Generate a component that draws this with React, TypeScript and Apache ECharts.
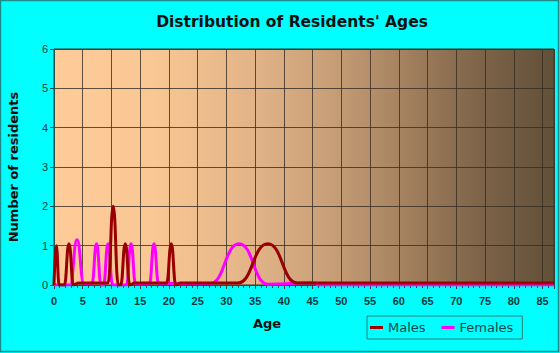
import React, { useEffect, useRef } from 'react';
import * as echarts from 'echarts';

const titleText = "Distribution of Residents' Ages";
const xAxisTitle = 'Age';
const yAxisTitle = 'Number of residents';
const seriesNames = ['Males', 'Females'];

const maleAges = [0, 0.4, 0.9, 1.8, 2.6, 3.4, 4.3, 9.4, 10.3, 11.2, 11.6, 12.4, 13.2, 14.0, 19.6, 20.4, 21.2, 22.0, 32.0, 37.2, 42.3, 87];
const maleCounts = [0, 1, 0, 0, 1.05, 0, 0.05, 0.05, 2, 0, 0, 1.05, 0, 0.05, 0.05, 1.05, 0, 0.05, 0.05, 1.05, 0.05, 0.05];

const femaleAges = [0, 2.8, 4.0, 5.2, 6.6, 7.4, 8.2, 8.6, 9.4, 10.2, 12.6, 13.4, 14.2, 16.6, 17.4, 18.2, 27.2, 32.2, 37.2, 45, 46, 87];
const femaleCounts = [0, 0, 1.15, 0.04, 0.04, 1.05, 0, 0, 1.05, 0, 0, 1.05, 0.03, 0.03, 1.05, 0.04, 0.04, 1.05, 0.02, 0.06, 0, 0];

const xMin = 0;
const xMax = 87;
const xInterval = 5;
const yMin = 0;
const yMax = 6;
const yInterval = 1;

const pairs = (xs: number[], ys: number[]) => xs.map((x, i) => [x, ys[i]]);

export default function App() {
  const ref = useRef<HTMLDivElement>(null);
  useEffect(() => {
    document.body.style.margin = '0';
    const chart = echarts.init(ref.current!, null, { renderer: 'svg' });
    const labelColor = '#0b3b3b';
    chart.setOption({
      animation: false,
      backgroundColor: '#00FFFF',
      grid: {
        left: 54,
        top: 49,
        right: 6,
        bottom: 68,
        show: true,
        borderColor: '#3d3328',
        borderWidth: 1,
        backgroundColor: {
          type: 'linear',
          x: 0, y: 0, x2: 1, y2: 0,
          colorStops: [
            { offset: 0, color: '#FFCC99' },
            { offset: 0.2, color: '#F9C793' },
            { offset: 0.4, color: '#E2B387' },
            { offset: 0.55, color: '#C89F78' },
            { offset: 0.7, color: '#A4815F' },
            { offset: 0.85, color: '#7E6449' },
            { offset: 1, color: '#625039' },
          ],
        },
      },
      legend: {
        data: seriesNames,
        left: 367,
        top: 316,
        orient: 'horizontal',
        borderColor: '#2a8080',
        borderWidth: 1,
        padding: [5, 9, 5, 3],
        itemGap: 16,
        itemWidth: 13,
        itemHeight: 3,
        icon: 'rect',
        textStyle: { fontFamily: 'DejaVu Sans', fontSize: 13, color: '#0f4848' },
      },
      xAxis: [
        {
          type: 'value',
          min: xMin,
          max: xMax,
          interval: xInterval,
          axisLine: { show: true, lineStyle: { color: '#1f4f4f' } },
          axisTick: { show: true, length: 4, lineStyle: { color: '#1f4f4f' } },
          axisLabel: {
            margin: 10,
            fontFamily: 'Liberation Sans',
            fontWeight: 'bold',
            fontSize: 11,
            color: labelColor,
            formatter: (v: number) => (v % xInterval === 0 ? String(v) : ''),
          },
          splitLine: { show: true, lineStyle: { color: 'rgba(55,45,35,0.8)', width: 1 } },
        },
        {
          type: 'value',
          min: xMin,
          max: xMax,
          interval: 1,
          position: 'bottom',
          axisLine: { show: false },
          axisTick: { show: true, length: 3, lineStyle: { color: '#1f4f4f' } },
          axisLabel: { show: false },
          splitLine: { show: false },
        },
      ],
      yAxis: {
        type: 'value',
        min: yMin,
        max: yMax,
        interval: yInterval,
        axisLine: { show: true, lineStyle: { color: '#1f4f4f' } },
        axisTick: { show: true, length: 4, lineStyle: { color: '#1f4f4f' } },
        axisLabel: {
          margin: 6,
          fontFamily: 'Liberation Sans',
          fontSize: 11,
          color: labelColor,
        },
        splitLine: { show: true, lineStyle: { color: 'rgba(55,45,35,0.8)', width: 1 } },
      },
      series: [
        {
          name: seriesNames[1],
          type: 'line',
          data: pairs(femaleAges, femaleCounts),
          smooth: 0.5,
          smoothMonotone: 'x',
          showSymbol: false,
          color: '#FF00FF',
          lineStyle: { width: 3, color: '#FF00FF' },
          z: 3,
        },
        {
          name: seriesNames[0],
          type: 'line',
          data: pairs(maleAges, maleCounts),
          smooth: 0.5,
          smoothMonotone: 'x',
          showSymbol: false,
          color: '#990000',
          lineStyle: { width: 3, color: '#990000' },
          z: 4,
        },
      ],
      graphic: [
        {
          type: 'rect',
          shape: { x: 0.5, y: 0.5, width: 558, height: 351 },
          style: { fill: 'none', stroke: '#1e8a8a', lineWidth: 1.5 },
          silent: true,
        },
        {
          type: 'text',
          x: 292,
          y: 22,
          style: {
            text: titleText,
            fontFamily: 'DejaVu Sans',
            fontWeight: 'bold',
            fontSize: 15.5,
            fill: '#111111',
            textAlign: 'center',
            textVerticalAlign: 'middle',
          },
        },
        {
          type: 'text',
          x: 267,
          y: 323,
          style: {
            text: xAxisTitle,
            fontFamily: 'DejaVu Sans',
            fontWeight: 'bold',
            fontSize: 13,
            fill: '#111111',
            textAlign: 'center',
            textVerticalAlign: 'middle',
          },
        },
        {
          type: 'text',
          x: 13,
          y: 167,
          rotation: Math.PI / 2,
          style: {
            text: yAxisTitle,
            fontFamily: 'DejaVu Sans',
            fontWeight: 'bold',
            fontSize: 13,
            fill: '#111111',
            textAlign: 'center',
            textVerticalAlign: 'middle',
          },
        },
      ],
    });
    return () => chart.dispose();
  }, []);
  return <div ref={ref} style={{ width: 560, height: 353 }} />;
}
